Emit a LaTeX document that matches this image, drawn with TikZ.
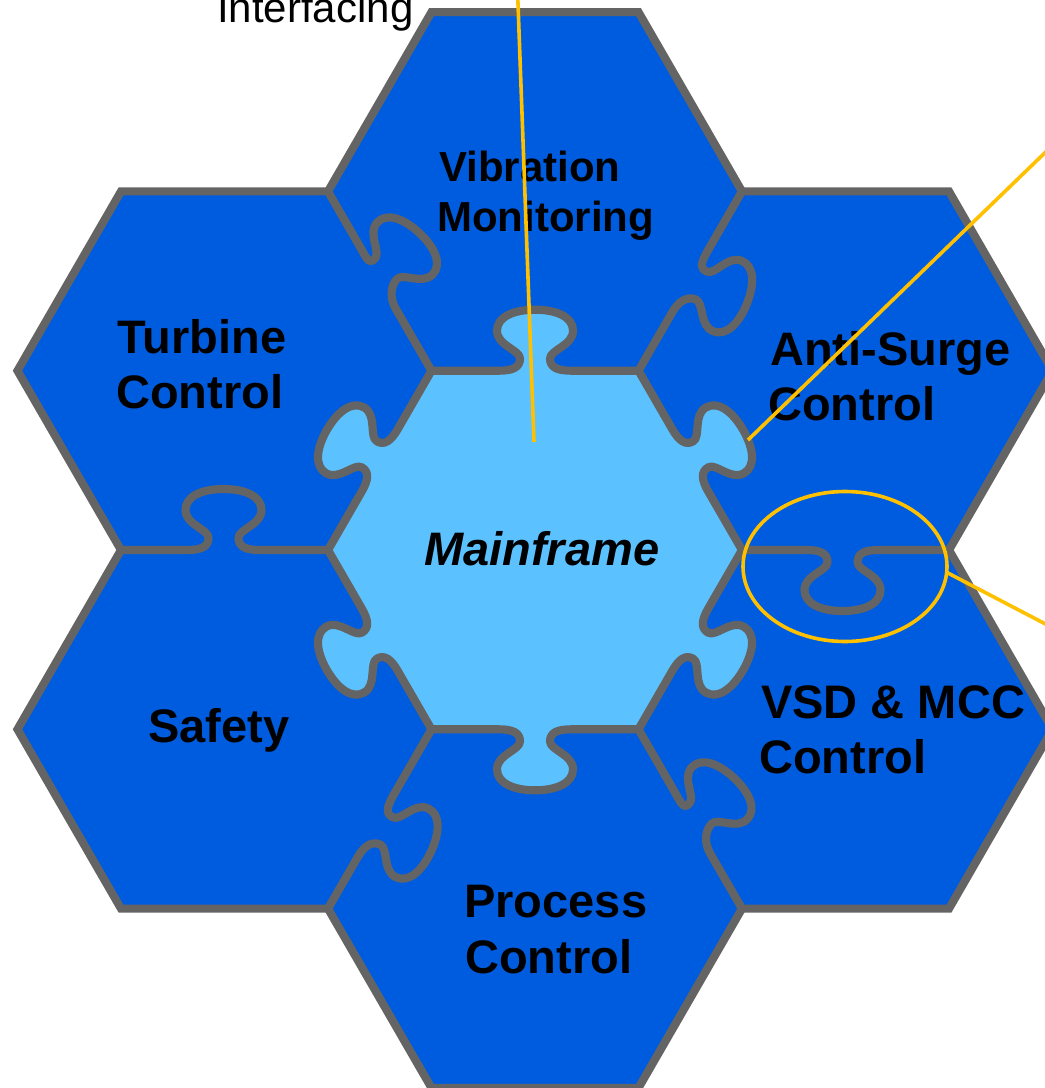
\documentclass[tikz,border=0pt]{standalone}
\usepackage{fontspec}
\setmainfont{Liberation Sans}
\definecolor{hexblue}{HTML}{005CDE}
\definecolor{mainblue}{HTML}{5BC2FF}
\definecolor{edgegray}{HTML}{646464}
\definecolor{callout}{HTML}{FFC000}

% base point on the edge line (u along edge, v along normal)
\newcommand\kb[3]{\coordinate (#1) at ({\kMx+(#2)*(\kdx)+(#3)*(\knx)},{\kMy+(#2)*(\kdy)+(#3)*(\kny)});}
% rotated knob point
\newcommand\kr[3]{%
  \pgfmathsetmacro\kU{(#2)*(\kcos)-(#3)*(\ksin)}%
  \pgfmathsetmacro\kV{(#2)*(\ksin)+(#3)*(\kcos)}%
  \coordinate (#1) at ({\kMx+(\kU)*(\kdx)+(\kV)*(\knx)},{\kMy+(\kU)*(\kdy)+(\kV)*(\kny)});}
% set up one knobbed edge: Ax Ay Bx By side angle offset
\newcommand\kset[7]{%
  \pgfmathsetmacro\kAx{#1}\pgfmathsetmacro\kAy{#2}%
  \pgfmathsetmacro\kBx{#3}\pgfmathsetmacro\kBy{#4}%
  \pgfmathsetmacro\kL{veclen(\kBx-\kAx,\kBy-\kAy)}%
  \pgfmathsetmacro\kdx{(\kBx-\kAx)/\kL}%
  \pgfmathsetmacro\kdy{(\kBy-\kAy)/\kL}%
  \pgfmathsetmacro\knx{-(#5)*(\kdy)}%
  \pgfmathsetmacro\kny{(#5)*(\kdx)}%
  \pgfmathsetmacro\kcos{cos(#6)}%
  \pgfmathsetmacro\ksin{sin(#6)}%
  \pgfmathsetmacro\kMx{(\kAx+\kBx)/2+(#7)*(\kdx)}%
  \pgfmathsetmacro\kMy{(\kAy+\kBy)/2+(#7)*(\kdy)}%
  \coordinate (kA) at (\kAx,\kAy);%
  \coordinate (kB) at (\kBx,\kBy);%
  \kb{k0}{-36}{0}\kb{k1}{-23}{0}%
  \kr{k2}{-15}{3}\kr{k3}{-15}{12}\kr{k4}{-15}{21}\kr{k5}{-38}{25}%
  \kr{k6}{-38}{40}\kr{k7}{-38}{54}\kr{k8}{-21}{61}\kr{k9}{0}{61}%
  \kr{k10}{21}{61}\kr{k11}{38}{54}\kr{k12}{38}{40}\kr{k13}{38}{25}%
  \kr{k14}{15}{21}\kr{k15}{15}{12}\kr{k16}{15}{3}%
  \kb{k17}{23}{0}\kb{k18}{36}{0}%
  \kb{kz0}{-36}{-6}\kb{kz1}{36}{-6}%
}
\newcommand\kstroke{\draw[seam] (kA) -- (k0) .. controls (k1) and (k2) .. (k3) .. controls (k4) and (k5) .. (k6) .. controls (k7) and (k8) .. (k9) .. controls (k10) and (k11) .. (k12) .. controls (k13) and (k14) .. (k15) .. controls (k16) and (k17) .. (k18) -- (kB);}
\newcommand\kfill{\fill[mainblue] (kz0) -- (k0) .. controls (k1) and (k2) .. (k3) .. controls (k4) and (k5) .. (k6) .. controls (k7) and (k8) .. (k9) .. controls (k10) and (k11) .. (k12) .. controls (k13) and (k14) .. (k15) .. controls (k16) and (k17) .. (k18) -- (kz1) -- cycle;}

\begin{document}
\begin{tikzpicture}[x=0.75pt,y=-0.75pt,
  seam/.style={draw=edgegray,line width=6.1pt,line cap=round,line join=round},
  rim/.style={draw=edgegray,line width=6.1pt,line join=miter},
  lbl/.style={anchor=base west,inner sep=0pt,text=black,font=\fontsize{35.25}{42}\selectfont\bfseries},
  lblsm/.style={anchor=base west,inner sep=0pt,text=black,font=\fontsize{31.5}{38}\selectfont\bfseries},
  note/.style={anchor=base west,inner sep=0pt,text=black,font=\fontsize{31.5}{38}\selectfont},
  callline/.style={draw=callout,line width=2.7pt}]
\useasboundingbox (0,0) rectangle (1045,1088);
\clip (0,0) rectangle (1045,1088);
\fill[white] (0,0) rectangle (1045,1088);

% union of the outer hexagons
\fill[hexblue] (431.5,12.1) -- (638.5,12.1) -- (742,191.4) -- (949,191.4) -- (1052.5,370.7) -- (949,550) -- (1052.5,729.3) -- (949,908.6) -- (742,908.6) -- (638.5,1087.9) -- (431.5,1087.9) -- (328,908.6) -- (121,908.6) -- (17.5,729.3) -- (121,550) -- (17.5,370.7) -- (121,191.4) -- (328,191.4) -- cycle;

% central hexagon
\fill[mainblue] (742,550) -- (638.5,370.7) -- (431.5,370.7) -- (328,550) -- (431.5,729.3) -- (638.5,729.3) -- cycle;

% outer rim
\draw[rim] (431.5,12.1) -- (638.5,12.1) -- (742,191.4) -- (949,191.4) -- (1052.5,370.7) -- (949,550) -- (1052.5,729.3) -- (949,908.6) -- (742,908.6) -- (638.5,1087.9) -- (431.5,1087.9) -- (328,908.6) -- (121,908.6) -- (17.5,729.3) -- (121,550) -- (17.5,370.7) -- (121,191.4) -- (328,191.4) -- cycle;

% central knobs (outward)
\kset{742}{550}{638.5}{370.7}{1}{0}{0}\kfill\kstroke
\kset{638.5}{370.7}{431.5}{370.7}{1}{0}{0}\kfill\kstroke
\kset{431.5}{370.7}{328}{550}{1}{0}{0}\kfill\kstroke
\kset{328}{550}{431.5}{729.3}{1}{0}{0}\kfill\kstroke
\kset{431.5}{729.3}{638.5}{729.3}{1}{0}{0}\kfill\kstroke
\kset{638.5}{729.3}{742}{550}{1}{0}{0}\kfill\kstroke

% radial seams between outer pieces
\kset{328}{191.4}{431.5}{370.7}{-1}{17}{-4}\kstroke
\kset{742}{191.4}{638.5}{370.7}{-1}{8}{0}\kstroke
\kset{742}{550}{949}{550}{1}{0}{-3}\kstroke
\kset{638.5}{729.3}{742}{908.6}{-1}{17}{4}\kstroke
\kset{431.5}{729.3}{328}{908.6}{-1}{5}{8}\kstroke
\kset{121}{550}{328}{550}{-1}{0}{-1}\kstroke

% labels
\node[note] (itf) at (217,23) {Interfacing};
\node[lblsm] (vib1) at (439,181) {Vibration};
\node[lblsm] (vib2) at (437,231) {Monitoring};
\node[lbl] (tur1) at (117,353) {Turbine};
\node[lbl] (tur2) at (116,408) {Control};
\node[lbl] (asc1) at (770,365) {Anti-Surge};
\node[lbl] (asc2) at (768,420) {Control};
\node[lbl,font=\fontsize{35.25}{42}\selectfont\bfseries\itshape] (mf) at (424,565) {Mainframe};
\node[lbl] (saf) at (148,742) {Safety};
\node[lbl] (vsd1) at (761,718) {VSD \& MCC};
\node[lbl] (vsd2) at (759,773) {Control};
\node[lbl] (pc1) at (464,917) {Process};
\node[lbl] (pc2) at (465,973) {Control};

% callouts
\coordinate (cl1a) at (534,442);
\coordinate (cl1b) at (517.5,-10);
\coordinate (cl2a) at (748,440);
\coordinate (cl2b) at (1055,143);
\coordinate (ring) at (845,566.5);
\coordinate (cl3a) at (946,572);
\coordinate (cl3b) at (1055,629);
\draw[callline] (cl1a) -- (cl1b);
\draw[callline] (cl2a) -- (cl2b);
\draw[callline] (ring) ellipse [x radius=76.5pt, y radius=56.25pt];
\draw[callline] (cl3a) -- (cl3b);
\end{tikzpicture}
\end{document}
